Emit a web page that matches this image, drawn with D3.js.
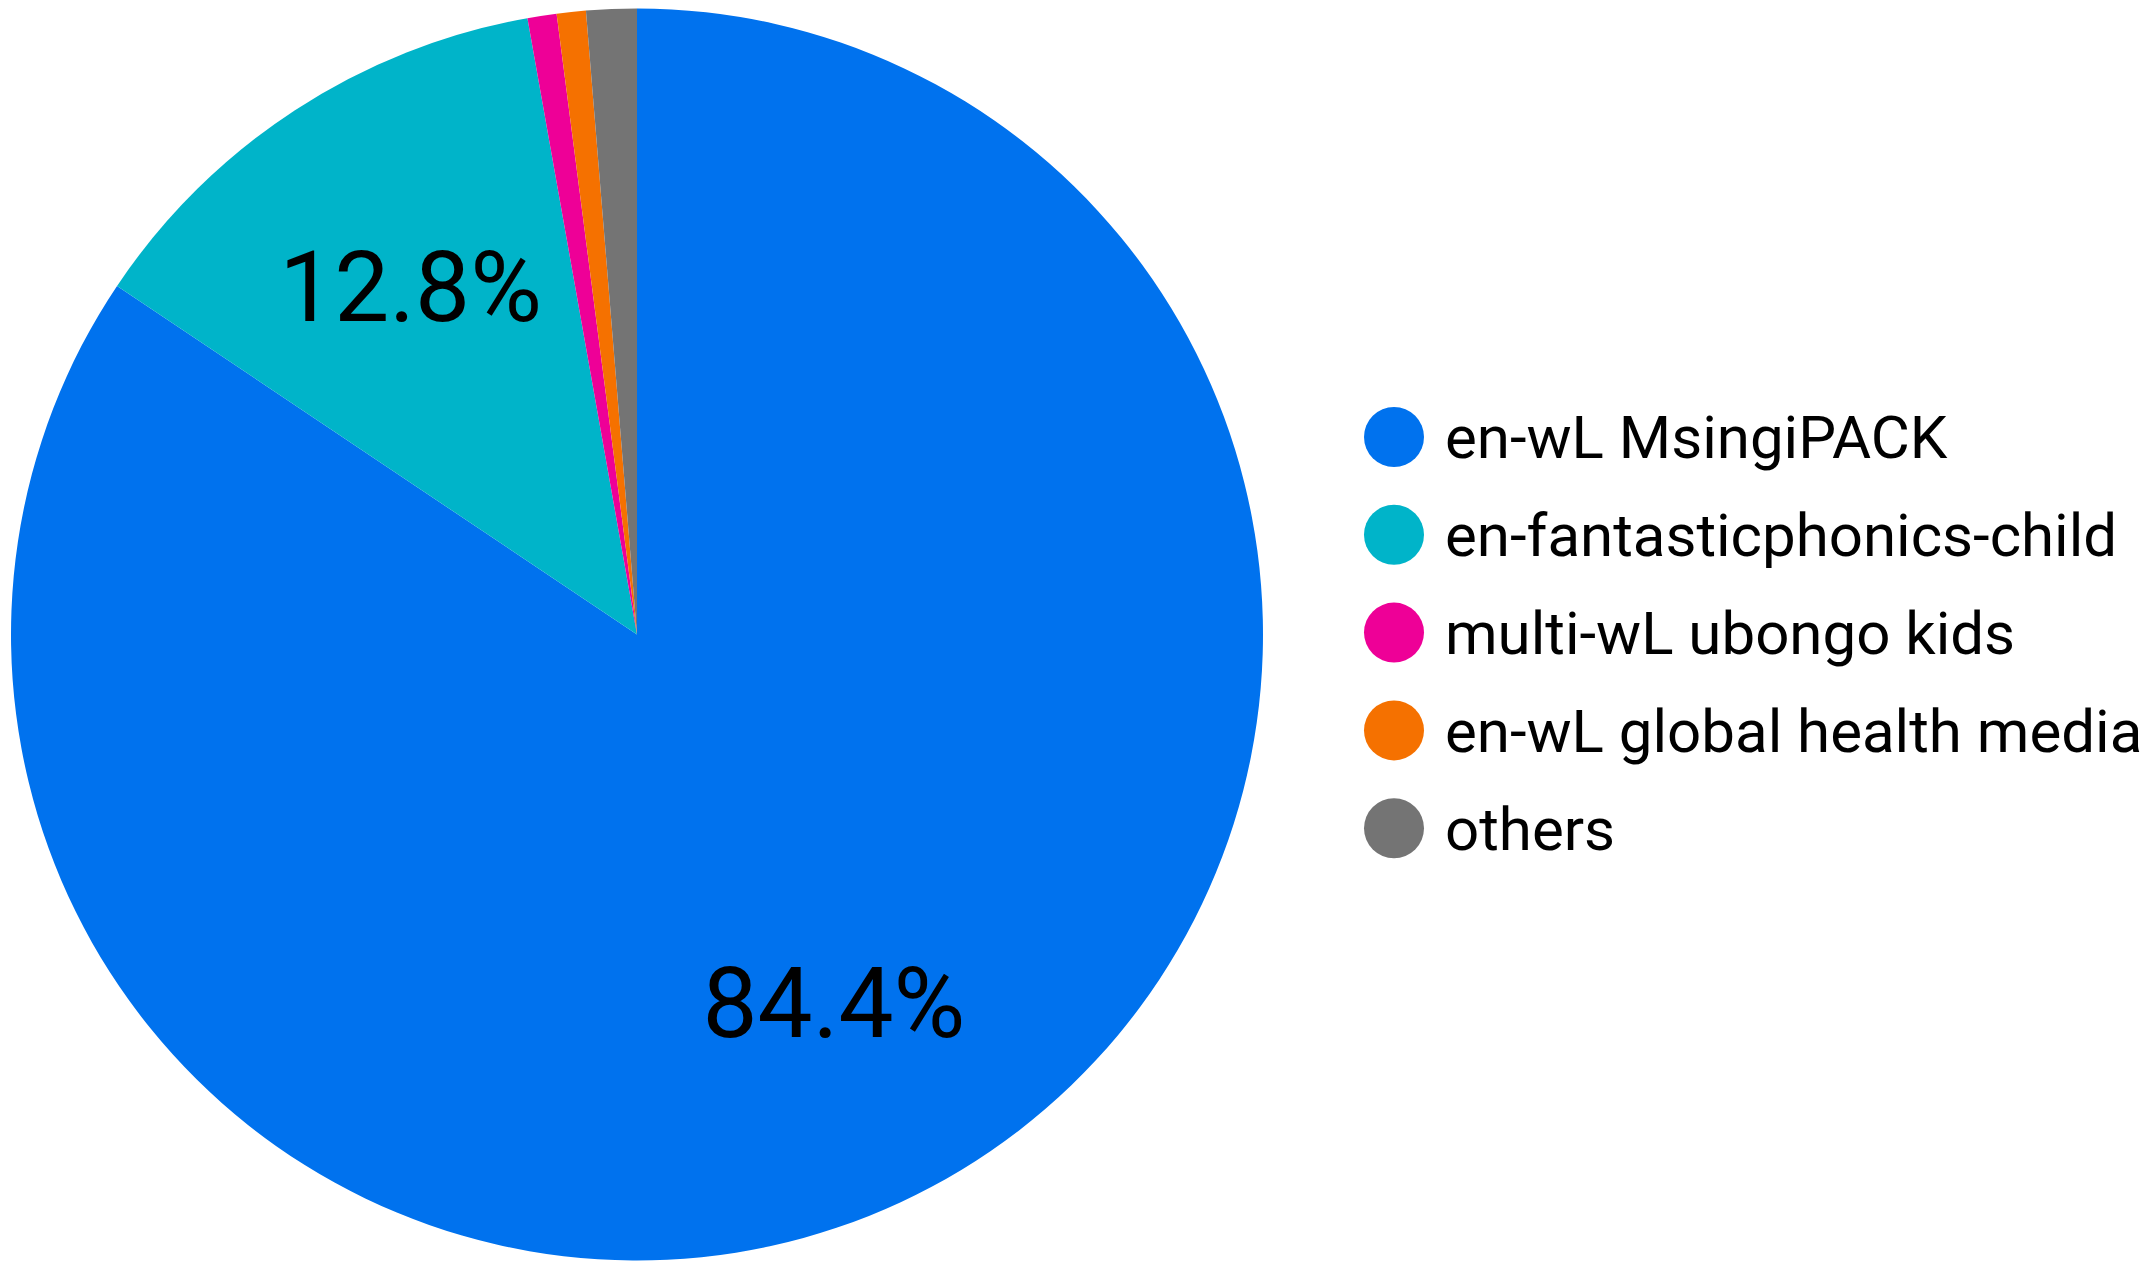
<!DOCTYPE html>
<html>
<head>
<meta charset="utf-8">
<script src="https://cdn.jsdelivr.net/npm/d3@7"></script>
<style>
  body { margin: 0; background: #fff; }
  text { font-family: Roboto, "Noto Sans", sans-serif; }
</style>
</head>
<body>
<script>
// chart data
var labels = ["en-wL MsingiPACK", "en-fantasticphonics-child", "multi-wL ubongo kids", "en-wL global health media", "others"];
var values = [84.4, 12.8, 0.75, 0.75, 1.3];
var colors = ["#0072ee", "#00b4c9", "#ee0097", "#f57100", "#747474"];

// layout
var width = 2144, height = 1261;
var cx = 637, cy = 634.5, radius = 626;
var labelFont = 98, legendFont = 60;
var legendX = 1394, legendY = 437, legendStep = 97.8, dotR = 30;

var svg = d3.select("body")
    .append("svg")
    .attr("width", width)
    .attr("height", height);

var rows = labels.map(function(l, i){ return {label: l, value: values[i], color: colors[i]}; });

var pie = d3.pie()
    .sort(null)
    .value(function(d){ return d.value; });

var arc = d3.arc().innerRadius(0).outerRadius(radius);
var labelArc = d3.arc().innerRadius(radius * 0.665).outerRadius(radius * 0.665);

var g = svg.append("g")
    .attr("transform", "translate(" + cx + "," + cy + ")");

var slices = g.selectAll("g.slice")
    .data(pie(rows))
    .enter()
    .append("g")
    .attr("class", "slice");

slices.append("path")
    .attr("d", arc)
    .attr("fill", function(d){ return d.data.color; });

// only the big slices get a percentage
slices.filter(function(d){ return d.data.value > 5; })
    .append("text")
    .attr("x", function(d){ return labelArc.centroid(d)[0] + 1; })
    .attr("y", function(d){ return labelArc.centroid(d)[1] + labelFont * 0.355; })
    .attr("text-anchor", "middle")
    .attr("font-size", labelFont)
    .attr("fill", "#000")
    .text(function(d){ return d.data.value.toFixed(1) + "%"; });

var legend = svg.append("g")
    .attr("class", "legend")
    .selectAll("g")
    .data(rows)
    .enter()
    .append("g")
    .attr("transform", function(d, i){ return "translate(" + legendX + "," + (legendY + i * legendStep) + ")"; });

legend.append("circle")
    .attr("r", dotR)
    .attr("fill", function(d){ return d.color; });

legend.append("text")
    .attr("x", 51)
    .attr("y", legendFont * 0.355)
    .attr("font-size", legendFont)
    .attr("fill", "#000")
    .text(function(d){ return d.label; });
</script>
</body>
</html>
